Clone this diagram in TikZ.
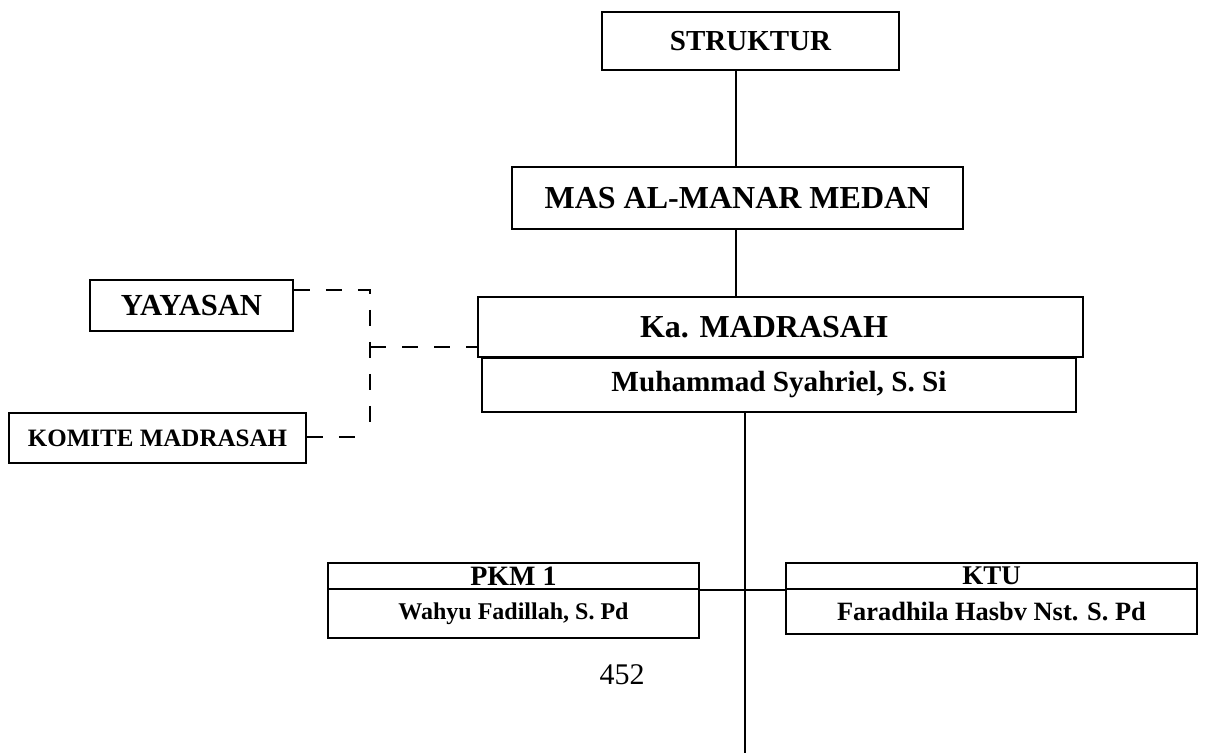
\documentclass[tikz,border=0pt]{standalone}
\usepackage{fontspec}
\setmainfont{Liberation Serif}
\usetikzlibrary{positioning}

\tikzset{
  box/.style={draw, line width=0.8pt, inner sep=0pt},
  txt/.style={font=\fontsize{#1}{#1}\selectfont\bfseries},
  link/.style={line width=0.6pt},
  dashline/.style={line width=0.6pt, dash pattern=on 8pt off 8pt}
}

\begin{document}
\begin{tikzpicture}[x=0.5pt,y=-0.5pt]
  \useasboundingbox (0,0) rectangle (1227,753);
  % top of the chart
  \node (struk) [box, txt=14.5pt, minimum width=148.5pt, minimum height=29pt] at (750.5,41) {STRUKTUR};
  \node (mas) [box, txt=16pt, minimum width=225.5pt, minimum height=31pt] at (737.5,198) {MAS AL-MANAR MEDAN};
  \node (ka) [box, minimum width=302.5pt, minimum height=30pt] at (780.5,327) {};
  \node (katext) [txt=16pt] at (764,327) {Ka. MADRASAH};
  \node (muh) [box, txt=14.6pt, minimum width=297pt, minimum height=27pt] at (779,385) {Muhammad Syahriel, S. Si};
  % side boxes
  \node (yay) [box, txt=15.3pt, minimum width=101.5pt, minimum height=25.5pt] at (191.5,305.5) {YAYASAN};
  \node (kom) [box, txt=12.5pt, minimum width=148.5pt, minimum height=25pt] at (157.5,438) {KOMITE MADRASAH};
  % second row
  \node (pkmhead) [box, txt=14pt, minimum width=185.5pt, minimum height=13pt] at (513.5,576) {PKM 1};
  \node (pkmname) [box, txt=12pt, minimum width=185.5pt, minimum height=24.5pt] at (513.5,613.5) {Wahyu Fadillah, S. Pd};
  \node (ktuhead) [box, txt=13.5pt, minimum width=205.5pt, minimum height=13pt] at (991.5,576) {KTU};
  \node (ktuname) [box, txt=13.2pt, minimum width=205.5pt, minimum height=22.5pt] at (991.5,611.5) {Faradhila Hasbv Nst. S. Pd};
  \node (page) [font=\fontsize{15pt}{15pt}\selectfont] at (622,675) {452};

  \coordinate (spine) at (736,0);
  \coordinate (foot) at (745,753);
  \coordinate (bustop) at (370,290);
  \coordinate (busmid) at (370,347);
  \coordinate (busbot) at (370,437);

  \draw[link] (struk.south -| spine) -- (mas.north -| spine);
  \draw[link] (mas.south -| spine) -- (ka.north -| spine);
  \draw[link] (muh.south -| foot) -- (foot);
  \draw[link, line width=0.8pt] (pkmhead.south east) -- (ktuhead.south west);

  \draw[dashline] (yay.east |- bustop) -- (bustop) -- (busbot);
  \draw[dashline] (kom.east |- busbot) -- (busbot);
  \draw[dashline] (busmid) -- (ka.west |- busmid);
\end{tikzpicture}
\end{document}
